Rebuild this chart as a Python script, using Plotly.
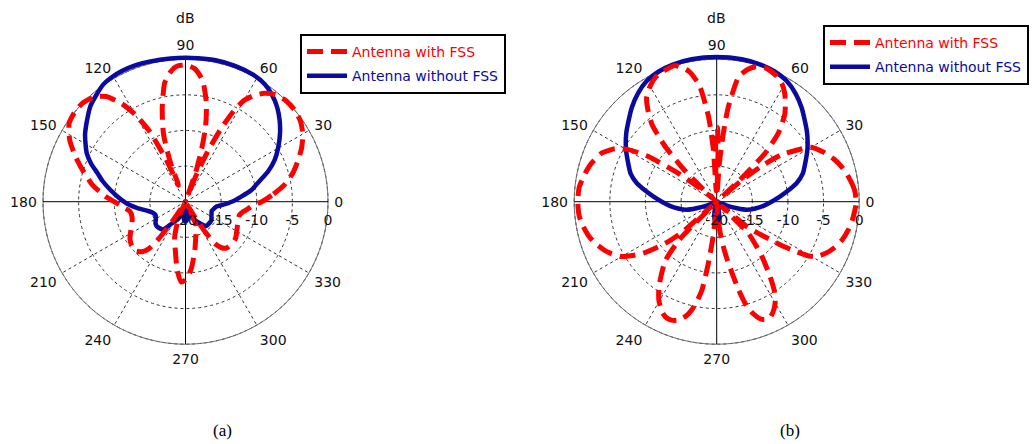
import plotly.graph_objects as go

# ---------------- data (angle in degrees, gain in dB) ----------------
ANGLE_TICKS = [0, 30, 60, 90, 120, 150, 180, 210, 240, 270, 300, 330]
RADIAL_TICKS = [-20, -15, -10, -5, 0]
RADIAL_LABELS = ["-20", "-15", "-10", "-5", "0"]

# (a) antenna with FSS
fss_a_theta = [0, 5, 10, 15, 20, 25, 30, 35, 40, 45, 50, 54, 57, 60, 62, 64, 66, 68, 69.5,
               71, 73, 75, 78, 82, 86, 90, 94, 97, 100, 104, 108, 111, 113, 114.5, 117,
               120, 123, 127, 131, 136, 141, 146, 152, 158, 164, 170, 176, 180, 185, 190,
               196, 202, 208, 214, 220, 225, 229, 232, 234, 236, 239, 243, 246, 249, 253,
               258, 263, 267, 271, 275, 281, 286, 291, 294, 297, 299, 301, 303, 305, 308,
               312, 318, 324, 330, 336, 342, 346, 350, 354, 357, 360]
fss_a_db = [-9.3, -7.6, -5.8, -4.4, -3.2, -2.0, -1.0, -0.3, 0.0, 0.0, -0.4, -1.2, -2.2, -3.6,
            -5.6, -8.5, -12.0, -16.0, -19.0, -15.5, -12.2, -9.1, -5.9, -2.8, -1.3, -0.8,
            -1.0, -1.8, -3.1, -6.5, -10.0, -14.0, -17.5, -14.0, -9.0, -5.9, -3.6, -1.5,
            -0.5, 0.0, 0.0, -0.3, -1.6, -3.4, -5.2, -6.8, -8.7, -10.0, -11.2, -12.1, -12.2,
            -11.9, -11.3, -10.6, -10.2, -10.2, -10.7, -11.6, -13.4, -16.5, -19.5, -20.0,
            -18.5, -16.8, -14.8, -13.1, -10.4, -8.7, -9.2, -10.6, -13.1, -14.8, -15.8,
            -16.4, -18.5, -19.6, -17.8, -15.0, -12.8, -11.8, -11.3, -11.2, -11.3, -11.7,
            -12.0, -12.2, -12.2, -11.8, -11.1, -10.5, -9.3]

# (a) antenna without FSS
nofss_a_theta = [0, 5, 10, 15, 20, 25, 30, 36, 41, 46, 51, 56, 62, 70, 78, 85, 90, 96, 104,
                 110, 116, 121, 125, 130, 135, 140, 146, 150, 154, 158, 162, 166, 171, 176,
                 182, 188, 194, 199, 204, 210, 216, 221, 226, 231, 235, 238, 243, 247, 252,
                 257, 261, 265, 270, 275, 279, 283, 288, 293, 298, 304, 308, 311, 318, 322,
                 326, 330, 336, 341, 346, 351, 355, 360]
nofss_a_db = [-13.5, -12.2, -10.6, -9.4, -7.7, -6.2, -5.0, -3.6, -2.5, -1.5, -0.7, -0.1, 0.2,
              0.3, 0.3, 0.2, 0.2, 0.2, 0.3, 0.4, 0.4, 0.3, 0.1, -0.5, -1.1, -2.0, -3.0, -3.8,
              -4.6, -5.7, -7.0, -8.0, -9.3, -10.5, -11.8, -13.3, -14.6, -15.2, -15.4, -15.2,
              -14.8, -14.7, -14.8, -15.0, -15.8, -16.4, -17.0, -17.4, -18.2, -18.8, -18.2,
              -17.5, -17.2, -17.5, -18.2, -18.8, -18.2, -17.5, -17.0, -16.3, -15.8, -15.5,
              -15.5, -15.5, -15.6, -15.8, -16.0, -16.1, -15.9, -15.6, -14.8, -13.5]

# (b) antenna with FSS
fss_b_theta = [0, 5, 10, 15, 20, 25, 30, 33, 36, 38.5, 40.5, 42, 43.5, 45, 48, 52, 55, 58,
               61, 65, 70, 74, 77, 80, 83, 84.5, 86, 87.5, 88.5, 89.5, 90.5, 91.5, 92.5,
               93.7, 95.5, 98.5, 102, 107, 112, 116, 120, 124, 127, 130, 133, 135.5, 137.5,
               139.5, 141.5, 143.5, 146.5, 149.5, 152.5, 157, 163, 168, 174, 180, 186, 190,
               195, 199, 205, 210, 213, 215, 217.5, 219.5, 221.5, 223.5, 225.5, 229, 232.5,
               236, 239.5, 243, 246, 249, 252, 255, 257, 259, 260.5, 262.3, 264, 266, 270,
               274, 276.5, 278.5, 280.5, 282.5, 284, 286, 288, 291, 294, 297, 300, 303,
               305.5, 309.5, 312, 315, 318, 320.5, 322.5, 324.5, 326, 327.5, 329.5, 332,
               335, 339, 343, 348, 352, 356, 360]
fss_b_db = [-0.4, -0.6, -1.1, -1.7, -2.5, -3.5, -4.7, -6.8, -8.8, -12.0, -15.5, -19.0, -15.0,
            -10.5, -7.1, -4.5, -3.2, -2.0, -1.1, -0.4, 0.0, -0.3, -1.0, -2.2, -6.6, -10.4,
            -14.5, -19.0, -13.0, -9.6, -10.2, -14.0, -18.5, -12.7, -8.0, -3.5, -1.3, 0.0,
            -0.2, -0.5, -1.3, -2.4, -4.0, -5.9, -9.4, -13.5, -17.5, -19.5, -17.0, -13.5,
            -8.5, -5.6, -3.9, -2.5, -1.6, -1.1, -0.6, -0.5, -0.6, -0.9, -1.4, -2.0, -3.2,
            -4.6, -6.2, -7.4, -9.5, -11.2, -13.5, -19.5, -12.5, -9.0, -7.3, -5.5, -4.0,
            -2.9, -2.3, -2.2, -2.5, -3.4, -4.4, -6.0, -7.4, -11.3, -15.0, -18.5, -20.0,
            -18.0, -15.5, -13.5, -11.5, -9.3, -7.2, -4.8, -3.5, -2.3, -2.0, -2.6, -3.6,
            -5.2, -7.1, -10.0, -11.8, -13.7, -19.0, -14.5, -12.8, -11.0, -9.0, -7.3, -5.0,
            -3.8, -3.0, -2.2, -1.6, -1.1, -0.8, -0.6, -0.4]

# (b) antenna without FSS
nofss_b_theta = [0, 5, 9, 13, 18, 25, 30, 37, 42, 48, 54, 60, 66, 72, 80, 90, 100, 108, 114,
                 120, 126, 132, 138, 143, 150, 155, 162, 167, 171, 175, 180, 185, 190, 195,
                 198, 201, 205, 210, 252, 256, 260, 265, 270, 275, 280, 284, 288, 335, 339,
                 342, 345, 350, 355, 360]
nofss_b_db = [-12.3, -11.0, -9.8, -8.5, -7.3, -6.2, -5.3, -4.1, -3.3, -2.2, -1.2, -0.4, 0.0,
              0.2, 0.3, 0.3, 0.3, 0.2, 0.0, -0.4, -1.2, -2.2, -3.3, -4.1, -5.3, -6.2, -7.3,
              -8.5, -9.8, -11.0, -12.3, -13.4, -14.5, -15.6, -17.0, -18.5, -19.8, -20.0,
              -20.0, -19.0, -18.0, -17.3, -17.0, -17.3, -18.0, -19.0, -20.0, -20.0, -18.5,
              -17.0, -15.6, -14.5, -13.4, -12.3]

LEGEND_WITH = "Antenna with FSS"
LEGEND_WITHOUT = "Antenna without FSS"
RED = "#ff0000"
BLUE = "#0a0aa0"

# ---------------- figure ----------------
W, H = 1032, 444
R_PX = 142.5            # radius of the 0 dB ring, in pixels
HEADROOM = 0.8          # dB of drawing room kept outside the 0 dB ring
R_LO, R_HI = RADIAL_TICKS[0], RADIAL_TICKS[-1]
TICK_FONT = dict(family="DejaVu Sans", size=14, color="#111111")
CLEAR = "rgba(0,0,0,0)"
GRID = "#333333"

fig = go.Figure()


def px_dom(cx, cy):
    rad = R_PX * (R_HI + HEADROOM - R_LO) / (R_HI - R_LO)
    return dict(x=[(cx - rad) / W, (cx + rad) / W],
                y=[1 - (cy + rad) / H, 1 - (cy - rad) / H])


panels = [
    ("polar", "legend", fss_a_theta, fss_a_db, nofss_a_theta, nofss_a_db),
    ("polar2", "legend2", fss_b_theta, fss_b_db, nofss_b_theta, nofss_b_db),
]

ring_theta = list(range(0, 362, 2))

for sub, leg, ft, fd, nt, nd in panels:
    # dashed spokes every 30 degrees
    for a in ANGLE_TICKS:
        if a % 90:
            fig.add_trace(go.Scatterpolar(
                r=[R_LO, R_HI], theta=[a, a], mode="lines",
                line=dict(color=GRID, width=1, dash="3px,3px"), subplot=sub,
                showlegend=False, hoverinfo="skip"))
    # solid outer ring at 0 dB
    fig.add_trace(go.Scatterpolar(
        r=[R_HI] * len(ring_theta), theta=ring_theta, mode="lines",
        line=dict(color="#6e6e6e", width=1), subplot=sub,
        showlegend=False, hoverinfo="skip"))
    # solid cross through the centre
    for a0, a1 in ((0, 180), (90, 270)):
        fig.add_trace(go.Scatterpolar(
            r=[R_HI, R_LO, R_HI], theta=[a0, a0, a1],
            mode="lines", line=dict(color="#000000", width=1), subplot=sub,
            showlegend=False, hoverinfo="skip"))
    fig.add_trace(go.Scatterpolar(
        r=nd, theta=nt, mode="lines",
        name=f'<span style="color:{BLUE}">{LEGEND_WITHOUT}</span>',
        line=dict(color=BLUE, width=4.5, shape="spline", smoothing=0.6),
        subplot=sub, legend=leg, legendrank=2, legendgroup=sub + "b"))
    fig.add_trace(go.Scatterpolar(
        r=fd, theta=ft, mode="lines",
        name=f'<span style="color:{RED}">{LEGEND_WITH}</span>',
        line=dict(color=RED, width=5, dash="16px,8px", shape="spline", smoothing=0.6),
        subplot=sub, legend=leg, legendrank=1, legendgroup=sub + "a"))

polar_common = dict(
    bgcolor="white",
    angularaxis=dict(
        rotation=0, direction="counterclockwise",
        tickmode="array", tickvals=ANGLE_TICKS, ticktext=[str(a) for a in ANGLE_TICKS],
        tickfont=TICK_FONT, ticks="", showline=False, showgrid=False),
    radialaxis=dict(
        range=[R_LO, R_HI + HEADROOM], angle=0, tickangle=0,
        tickmode="array", tickvals=RADIAL_TICKS, ticktext=RADIAL_LABELS,
        tickfont=TICK_FONT, ticks="outside", ticklen=6, tickcolor=CLEAR,
        side="clockwise",
        showline=False, showgrid=True, gridcolor=GRID, gridwidth=1,
        griddash="3px,3px"),
)

legend_common = dict(
    bgcolor="white", bordercolor="#000000", borderwidth=2,
    font=dict(family="DejaVu Sans", size=14), xanchor="left", yanchor="top",
    itemwidth=40, tracegroupgap=3)

CAPTION_FONT = dict(family="Liberation Serif", size=17, color="#000")

fig.update_layout(
    width=W, height=H, margin=dict(l=0, r=0, t=0, b=0),
    paper_bgcolor="white", plot_bgcolor="white",
    polar=dict(domain=px_dom(185.5, 201.7), **polar_common),
    polar2=dict(domain=px_dom(716.7, 201.7), **polar_common),
    legend=dict(x=300 / W, y=1 - 34 / H, **legend_common),
    legend2=dict(x=823 / W, y=1 - 25 / H, **legend_common),
    annotations=[
        dict(text="dB", x=185.5 / W, y=1 - 18 / H, xref="paper", yref="paper",
             xanchor="center", yanchor="middle", showarrow=False, font=TICK_FONT),
        dict(text="dB", x=716.7 / W, y=1 - 18 / H, xref="paper", yref="paper",
             xanchor="center", yanchor="middle", showarrow=False, font=TICK_FONT),
        dict(text="(a)", x=222 / W, y=1 - 430 / H, xref="paper", yref="paper",
             xanchor="center", yanchor="middle", showarrow=False, font=CAPTION_FONT),
        dict(text="(b)", x=790 / W, y=1 - 430 / H, xref="paper", yref="paper",
             xanchor="center", yanchor="middle", showarrow=False, font=CAPTION_FONT),
    ],
)

fig.write_html("out.html")
